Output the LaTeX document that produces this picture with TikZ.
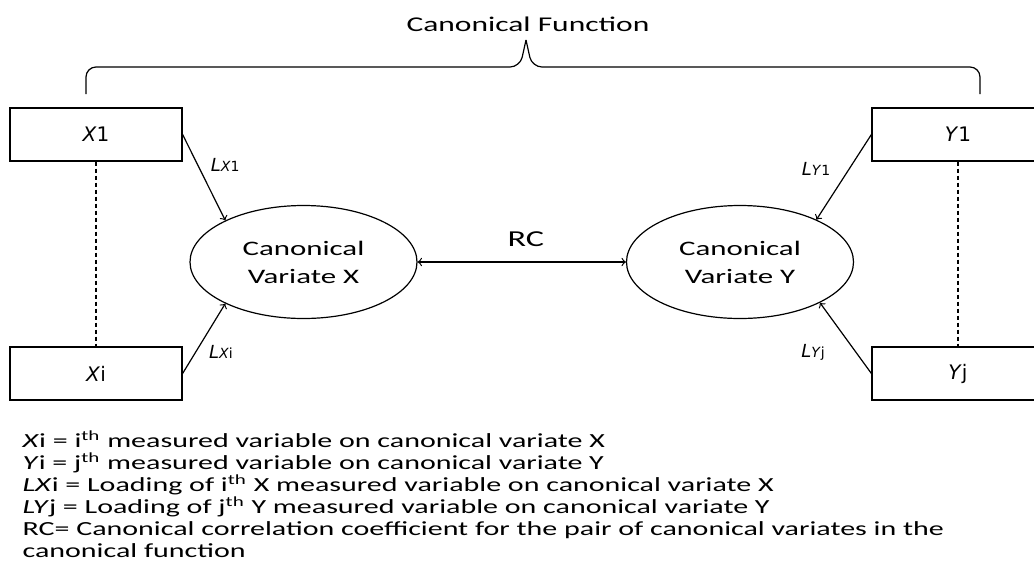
\documentclass[tikz,border=0pt]{standalone}
\usepackage{fontspec}
\setmainfont{Carlito}[FakeStretch=1.5]
\newfontfamily\verd{DejaVu Sans}
\newcommand\legfont{\fontsize{10}{11}\selectfont\lineskiplimit=-20pt\relax}
\usetikzlibrary{shapes.geometric}

\begin{document}
\begin{tikzpicture}[x=0.5pt, y=-0.5pt, line width=0.6pt,
	box/.style = {draw, minimum width=86pt, minimum height=26.5pt, inner sep=0pt, font=\verd\fontsize{10}{12}\selectfont},
	var/.style = {draw, ellipse, minimum width=113.5pt, minimum height=56.5pt, inner sep=0pt, align=center, font=\fontsize{10.3}{14}\selectfont},
	lab/.style = {font=\verd\fontsize{9}{10}\selectfont}]
	\useasboundingbox (0,0) rectangle (1034,563);
	% boxes of measured variables
	\node[box] (x1) at (96,134.5) {\textit{X}1};
	\node[box] (xi) at (96,373.5) {\textit{X}i};
	\node[box] (y1) at (958,134.5) {\textit{Y}1};
	\node[box] (yj) at (958,373.5) {\textit{Y}j};
	% canonical variates
	\node[var] (vx) at (303.5,262) {Canonical\\Variate X};
	\node[var] (vy) at (740,262) {Canonical\\Variate Y};
	\draw[dash pattern=on 2pt off 1.5pt] (x1) -- (xi);
	\draw[dash pattern=on 2pt off 1.5pt] (y1) -- (yj);
	% loadings
	\draw[->] (x1.east) -- (vx.152) node [lab, pos=0.35, right=3pt] {\textit{L}{\scriptsize\textit{X}1}};
	\draw[->] (xi.east) -- (vx.208) node [lab, pos=0.31, right=3pt] {\textit{L}{\scriptsize\textit{X}i}};
	\draw[->] (y1.west) -- (vy.29) node [lab, pos=0.4, left=6pt] {\textit{L}{\scriptsize\textit{Y}1}};
	\draw[->] (yj.west) -- (vy.333) node [lab, pos=0.3, left=12pt] {\textit{L}{\scriptsize\textit{Y}j}};
	% correlation
	\draw[<->] (vx) -- (vy) node [pos=0.52, above=4pt, font=\fontsize{11.4}{14}\selectfont] {RC};
	% canonical function brace
	\draw[rounded corners=5pt] (86,94) -- (86,67) -- (520,67) -- (526,40);
	\draw[rounded corners=5pt] (980,94) -- (980,67) -- (532,67) -- (526,40);
	\node[font=\fontsize{10.5}{14}\selectfont] (cf) at (528,24) {Canonical Function};
	% legend
	\node[anchor=north west, align=left, inner sep=0pt, font=\legfont] (leg) at (22,430) {%
		\textit{X}i = i\textsuperscript{th} measured variable on canonical variate X\\
		\textit{Y}i = j\textsuperscript{th} measured variable on canonical variate Y\\
		\textit{LX}i = Loading of i\textsuperscript{th} X measured variable on canonical variate X\\
		\textit{LY}j = Loading of j\textsuperscript{th} Y measured variable on canonical variate Y\\
		RC= Canonical correlation coefficient for the pair of canonical variates in the\\
		canonical function};
\end{tikzpicture}
\end{document}
